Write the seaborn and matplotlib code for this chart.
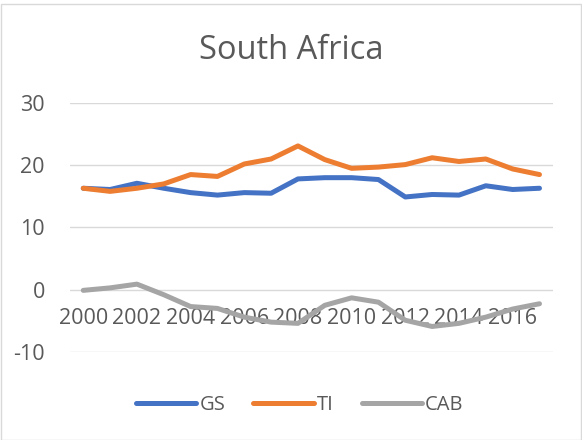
import pandas as pd
import matplotlib.pyplot as plt
import seaborn as sns

years = list(range(2000, 2018))
gs = [16.3, 16.1, 17.1, 16.3, 15.6, 15.2, 15.6, 15.5, 17.8, 18.0, 18.0, 17.7, 14.9, 15.3, 15.2, 16.7, 16.1, 16.3]
ti = [16.3, 15.8, 16.3, 17.0, 18.5, 18.2, 20.2, 21.0, 23.1, 20.9, 19.5, 19.7, 20.1, 21.2, 20.6, 21.0, 19.4, 18.5]
cab = [-0.1, 0.3, 0.9, -0.8, -2.7, -3.0, -4.4, -5.2, -5.4, -2.5, -1.3, -2.0, -4.9, -5.9, -5.4, -4.4, -3.1, -2.25]

df = pd.DataFrame({"Year": years, "GS": gs, "TI": ti, "CAB": cab})
long = df.melt(id_vars="Year", var_name="Series", value_name="Value")

sns.set_style("white")
plt.rcParams["font.family"] = ["Open Sans", "DejaVu Sans"]
plt.rcParams["axes.unicode_minus"] = False
text_color = "#595959"

fig = plt.figure(figsize=(5.82, 4.4), dpi=100)
ax = fig.add_axes([0.12, 0.2, 0.83, 0.566])

palette = {"GS": "#4472C4", "TI": "#ED7D31", "CAB": "#A5A5A5"}
sns.lineplot(data=long, x="Year", y="Value", hue="Series", palette=palette,
             linewidth=3.6, ax=ax, solid_capstyle="round")

ax.set_ylim(-10, 30)
ax.set_yticks([-10, 0, 10, 20, 30])
ax.set_xlim(1999.5, 2017.5)
ax.set_xticks(years[::2])
ax.grid(axis="y", color="#D9D9D9", linewidth=1)
ax.set_axisbelow(True)
for s in ["top", "right", "left"]:
    ax.spines[s].set_visible(False)
ax.spines["bottom"].set_position(("data", 0))
ax.spines["bottom"].set_visible(False)
ax.tick_params(axis="both", length=0, labelsize=15.5, labelcolor=text_color)
ax.tick_params(axis="y", pad=18)
ax.tick_params(axis="x", pad=13)
ax.set_xlabel("")
ax.set_ylabel("")

fig.text(0.5, 0.885, "South Africa", ha="center", va="center", fontsize=23.5, color=text_color)

handles, labels = ax.get_legend_handles_labels()
ax.legend_.remove()
fig.legend(handles, labels, loc="center", bbox_to_anchor=(0.515, 0.08), ncol=3, frameon=False,
           fontsize=14.5, labelcolor=text_color, handlelength=3.0, handletextpad=0.15, columnspacing=1.4)

fig.patches.append(plt.Rectangle((0.001, 0.001), 0.998, 0.99, transform=fig.transFigure,
                                 fill=False, edgecolor="#D9D9D9", linewidth=1))

plt.savefig("out.png", dpi=100)
